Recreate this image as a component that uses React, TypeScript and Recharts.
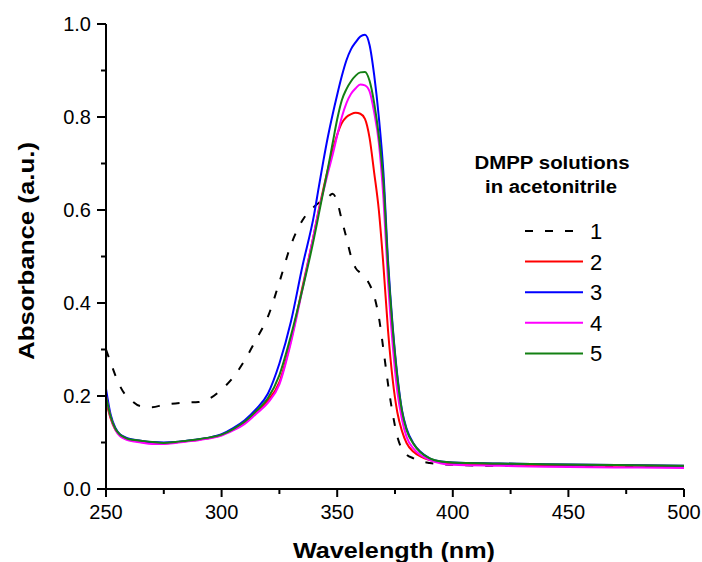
import { Line, LineChart, XAxis, YAxis } from "recharts";

// wavelength grid (nm), denser around the absorption band
const wavelengths = [
  250, 252, 254, 256, 258, 260, 265, 270, 275, 280, 285, 290, 295, 300, 305,
  310, 315, 320, 325, 330, 335, 340, 342, 344, 346, 348, 350, 352, 354, 356,
  358, 360, 362, 364, 366, 368, 370, 372, 374, 376, 378, 380, 383, 386, 390,
  395, 400, 420, 440, 460, 480, 500,
];

const sample1 = [
  0.3, 0.272, 0.245, 0.222, 0.205, 0.195, 0.178, 0.176, 0.181, 0.184, 0.186,
  0.187, 0.195, 0.214, 0.24, 0.277, 0.322, 0.37, 0.445, 0.525, 0.578, 0.607,
  0.615, 0.621, 0.628, 0.635, 0.618, 0.578, 0.54, 0.5, 0.475, 0.465, 0.456,
  0.44, 0.415, 0.37, 0.3, 0.225, 0.162, 0.113, 0.086, 0.074, 0.066, 0.06,
  0.056, 0.053, 0.052, 0.05, 0.05, 0.049, 0.048, 0.047,
];

const sample2 = [
  0.19, 0.152, 0.128, 0.116, 0.11, 0.106, 0.102, 0.099, 0.098, 0.1, 0.103,
  0.106, 0.11, 0.116, 0.128, 0.143, 0.165, 0.19, 0.23, 0.32, 0.435, 0.55, 0.6,
  0.645, 0.688, 0.727, 0.762, 0.787, 0.8, 0.806, 0.809, 0.807, 0.796, 0.755,
  0.68, 0.6, 0.48, 0.34, 0.235, 0.165, 0.125, 0.099, 0.08, 0.07, 0.062, 0.057,
  0.055, 0.053, 0.051, 0.05, 0.05, 0.049,
];

const sample3 = [
  0.215, 0.16, 0.132, 0.118, 0.112, 0.108, 0.104, 0.101, 0.1, 0.101, 0.104,
  0.107, 0.111, 0.118, 0.131, 0.148, 0.172, 0.205, 0.27, 0.36, 0.48, 0.59,
  0.648, 0.705, 0.758, 0.805, 0.848, 0.888, 0.922, 0.946, 0.961, 0.973, 0.977,
  0.955, 0.89, 0.8, 0.68, 0.49, 0.35, 0.245, 0.17, 0.13, 0.098, 0.08, 0.066,
  0.059, 0.057, 0.055, 0.053, 0.052, 0.051, 0.05,
];

const sample4 = [
  0.2, 0.155, 0.128, 0.114, 0.108, 0.104, 0.1, 0.097, 0.097, 0.099, 0.102,
  0.105, 0.109, 0.115, 0.126, 0.14, 0.162, 0.185, 0.225, 0.315, 0.43, 0.55,
  0.598, 0.64, 0.68, 0.718, 0.76, 0.8, 0.83, 0.85, 0.862, 0.87, 0.868, 0.855,
  0.81, 0.745, 0.625, 0.445, 0.31, 0.21, 0.15, 0.112, 0.087, 0.073, 0.062,
  0.055, 0.052, 0.05, 0.048, 0.047, 0.046, 0.045,
];

const sample5 = [
  0.2, 0.156, 0.13, 0.117, 0.111, 0.107, 0.104, 0.101, 0.099, 0.101, 0.104,
  0.107, 0.111, 0.117, 0.129, 0.145, 0.168, 0.195, 0.245, 0.33, 0.43, 0.54,
  0.59, 0.64, 0.69, 0.743, 0.795, 0.836, 0.86, 0.877, 0.889, 0.896, 0.897,
  0.878, 0.83, 0.76, 0.66, 0.48, 0.345, 0.24, 0.168, 0.127, 0.097, 0.079,
  0.066, 0.059, 0.057, 0.055, 0.053, 0.052, 0.051, 0.05,
];

const xTicks = [250, 275, 300, 325, 350, 375, 400, 425, 450, 475, 500];
const yTicks = [0, 0.1, 0.2, 0.3, 0.4, 0.5, 0.6, 0.7, 0.8, 0.9, 1.0];
const sampleNames = ["1", "2", "3", "4", "5"];

const rows = wavelengths.map((wl, i) => ({
  wl,
  s1: sample1[i],
  s2: sample2[i],
  s3: sample3[i],
  s4: sample4[i],
  s5: sample5[i],
}));

const styles = [
  { key: "s1", color: "#000000", dash: "8 12" },
  { key: "s2", color: "#ff0000", dash: undefined },
  { key: "s3", color: "#0000ff", dash: undefined },
  { key: "s4", color: "#ff00ff", dash: undefined },
  { key: "s5", color: "#138013", dash: undefined },
];

const font = "'Liberation Sans', Arial, sans-serif";

const XTick = (props: any) => {
  const { x, y, payload } = props;
  const major = payload.value % 50 === 0;
  return (
    <g>
      <line x1={x} x2={x} y1={y} y2={y + (major ? 8 : 5)} stroke="#000" strokeWidth={2} />
      {major && (
        <text x={x} y={y + 30} textAnchor="middle" fontSize={20} fontFamily={font} fill="#000">
          {payload.value}
        </text>
      )}
    </g>
  );
};

const YTick = (props: any) => {
  const { x, y, payload } = props;
  const major = Math.round(payload.value * 10) % 2 === 0;
  return (
    <g>
      <line x1={x - (major ? 9 : 5)} x2={x} y1={y} y2={y} stroke="#000" strokeWidth={2} />
      {major && (
        <text x={x - 15} y={y + 7} textAnchor="end" fontSize={20} fontFamily={font} fill="#000">
          {payload.value.toFixed(1)}
        </text>
      )}
    </g>
  );
};

export default function App() {
  return (
    <div style={{ position: "absolute", left: 0, top: 0, width: 702, height: 562 }}>
      <LineChart
        width={702}
        height={562}
        data={rows}
        margin={{ top: 24, right: 18, bottom: 0, left: 0 }}
      >
        <XAxis
          dataKey="wl"
          type="number"
          domain={[250, 500]}
          ticks={xTicks}
          tick={XTick}
          tickLine={false}
          tickSize={0}
          tickMargin={0}
          height={73}
          axisLine={{ stroke: "#000", strokeWidth: 2 }}
          interval={0}
        />
        <YAxis
          type="number"
          domain={[0, 1]}
          ticks={yTicks}
          tick={YTick}
          tickLine={false}
          tickSize={0}
          tickMargin={0}
          width={106}
          axisLine={{ stroke: "#000", strokeWidth: 2 }}
          interval={0}
        />
        {styles.map((s) => (
          <Line
            key={s.key}
            dataKey={s.key}
            type="monotone"
            stroke={s.color}
            strokeWidth={2}
            strokeDasharray={s.dash}
            dot={false}
            activeDot={false}
            isAnimationActive={false}
          />
        ))}
      </LineChart>
      <svg
        width={702}
        height={562}
        style={{ position: "absolute", left: 0, top: 0, pointerEvents: "none" }}
      >
        <text
          x={394}
          y={558}
          textAnchor="middle"
          fontSize={22}
          fontWeight="bold"
          fontFamily={font}
          textLength={202}
          lengthAdjust="spacingAndGlyphs"
        >
          Wavelength (nm)
        </text>
        <text
          transform="translate(34,251) rotate(-90)"
          textAnchor="middle"
          fontSize={22}
          fontWeight="bold"
          fontFamily={font}
          textLength={218}
          lengthAdjust="spacingAndGlyphs"
        >
          Absorbance (a.u.)
        </text>
        <text
          x={552}
          y={169}
          textAnchor="middle"
          fontSize={18}
          fontWeight="bold"
          fontFamily={font}
          textLength={155}
          lengthAdjust="spacingAndGlyphs"
        >
          DMPP solutions
        </text>
        <text
          x={551}
          y={193}
          textAnchor="middle"
          fontSize={18}
          fontWeight="bold"
          fontFamily={font}
          textLength={132}
          lengthAdjust="spacingAndGlyphs"
        >
          in acetonitrile
        </text>
        {styles.map((s, i) => (
          <g key={s.key}>
            <line
              x1={525}
              x2={583}
              y1={231 + i * 30.6}
              y2={231 + i * 30.6}
              stroke={s.color}
              strokeWidth={2}
              strokeDasharray={s.dash}
            />
            <text x={590} y={239 + i * 30.6} fontSize={22} fontFamily={font}>
              {sampleNames[i]}
            </text>
          </g>
        ))}
      </svg>
    </div>
  );
}
